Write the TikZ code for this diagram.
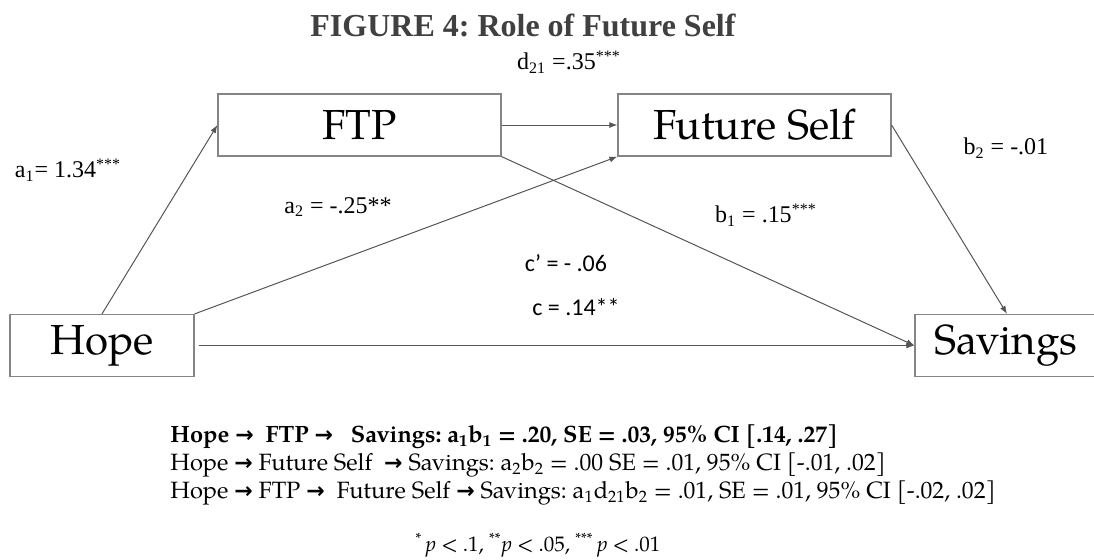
\documentclass[tikz,border=0pt]{standalone}
\usepackage{fontspec}
\setmainfont{Liberation Serif}
\newfontfamily\bookfont{texgyrepagella}[Extension=.otf,UprightFont=*-regular,BoldFont=*-bold,ItalicFont=*-italic,BoldItalicFont=*-bolditalic]
\newfontfamily\calfont{Carlito}
\newfontfamily\symfont{DejaVu Sans}
\usetikzlibrary{arrows.meta}
\frenchspacing

\definecolor{titlegray}{HTML}{404040}
\definecolor{linegray}{HTML}{555555}
\definecolor{boxgray}{HTML}{858585}

\newcommand{\goesto}{{\symfont\bfseries\fontsize{11}{13}\selectfont →}}

\tikzset{
    varbox/.style={draw=boxgray, line width=0.6pt, inner sep=0pt, minimum height=31pt,
        font=\bookfont\fontsize{21}{25}\selectfont},
    link/.style={draw=linegray, line width=0.5pt, -{Latex[length=4pt,width=3pt]}},
    coef/.style={font=\fontsize{12}{14}\selectfont, inner sep=1pt},
    coefsans/.style={font=\calfont\fontsize{12}{14}\selectfont, inner sep=1pt},
    pathline/.style={anchor=west, inner sep=0pt, font=\bookfont\fontsize{11.8}{14}\selectfont}
}

\begin{document}
\begin{tikzpicture}[x=0.5pt, y=-0.5pt]
    \useasboundingbox (0,0) rectangle (1094,559);

    % Title
    \node[font=\bfseries\fontsize{16}{19}\selectfont, text=titlegray] (title) at (523,25) {FIGURE 4: Role of Future Self};

    % Variables
    \node[varbox, minimum width=141.5pt] (FTP) at (359.5,125) {FTP};
    \node[varbox, minimum width=136.5pt] (FS) at (754.5,125) {Future Self};
    \node[varbox, minimum width=92pt] (Hope) at (102,345.5) {Hope};
    \node[varbox, minimum width=96pt] (Sav) at (1011,345.5) {\hspace*{-5pt}Savings};

    % Paths
    \draw[link] (Hope.north) -- (FTP.west);
    \draw[link] (Hope.north east) -- (FS.south west);
    \draw[link] (FTP.east) -- (FS.west);
    \draw[link] (FTP.south east) -- (Sav.west);
    \draw[link] (FS.east) -- ([xshift=-2pt]Sav.north);
    \draw[link] ([xshift=2pt]Hope.east) -- (Sav.west);

    % Coefficients
    \node[coef] (d21) at (569,62) {d\textsubscript{21} =.35\textsuperscript{***}};
    \node[coef] (a1) at (68,170) {a\textsubscript{1}= 1.34\textsuperscript{***}};
    \node[coef] (a2) at (338,207) {a\textsubscript{2} = -.25**};
    \node[coef] (b1) at (766,215) {b\textsubscript{1} = .15\textsuperscript{***}};
    \node[coef] (b2) at (1006,148) {b\textsubscript{2} = -.01};
    \node[coefsans] (cp) at (566,263) {c’ = - .06};
    \node[coefsans] (c) at (576,307) {c = .14**};

    % Indirect effects
    \node[pathline, font=\bookfont\bfseries\fontsize{11.8}{14}\selectfont] (ind1) at (170,437)
        {Hope \goesto\ \ FTP \goesto\ \ \ Savings: a\textsubscript{1}b\textsubscript{1} = .20, SE = .03, 95\% CI [.14, .27]};
    \node[pathline] (ind2) at (170,465)
        {Hope \goesto\ Future Self \ \goesto\ Savings: a\textsubscript{2}b\textsubscript{2} = .00 SE = .01, 95\% CI [-.01, .02]};
    \node[pathline] (ind3) at (170,493)
        {Hope \goesto\ FTP \goesto\ \ Future Self \goesto\ Savings: a\textsubscript{1}d\textsubscript{21}b\textsubscript{2} = .01, SE = .01, 95\% CI [-.02, .02]};

    \node[font=\bookfont\fontsize{10.5}{12}\selectfont] (note) at (538,545)
        {\textsuperscript{*}\,\textit{p} < .1, \textsuperscript{**}\textit{p} < .05, \textsuperscript{***}\,\textit{p} < .01};
\end{tikzpicture}
\end{document}
